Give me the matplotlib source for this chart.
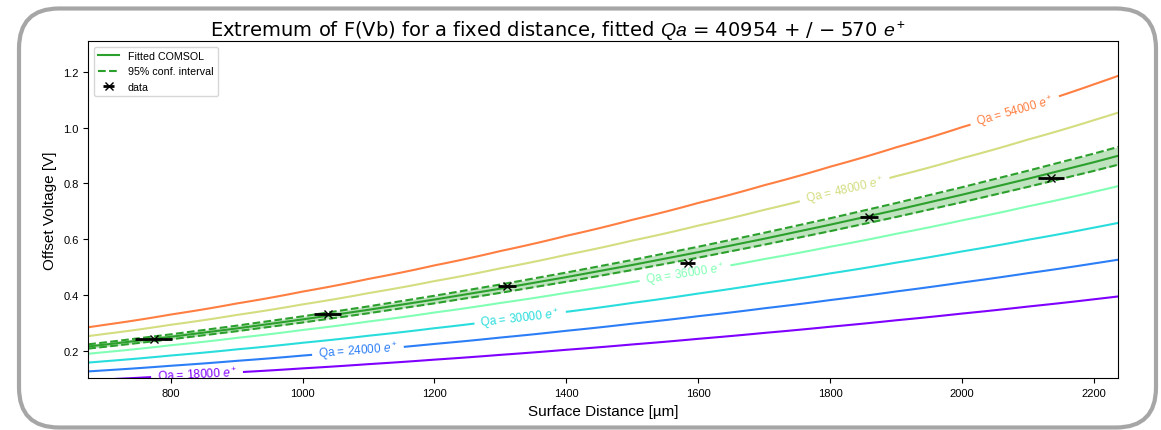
import matplotlib
matplotlib.use("Agg")
import matplotlib.pyplot as plt
import numpy as np
from matplotlib.patches import FancyBboxPatch

plt.rcParams['font.family'] = ['Liberation Sans', 'DejaVu Sans']
plt.rcParams['mathtext.fontset'] = 'custom'
plt.rcParams['mathtext.rm'] = 'Liberation Sans'
plt.rcParams['mathtext.it'] = 'Liberation Sans:italic'

# fitted charge and confidence bounds [e+]
QA_FIT = 40954
QA_ERR = 570
QA_LOW = 39500
QA_HIGH = 42400

# fitted offset voltage along the surface distance
distance = [675, 700, 800, 900, 1000, 1100, 1200, 1300, 1400, 1500,
            1600, 1700, 1800, 1900, 2000, 2100, 2200, 2237]
fit_v = [0.216, 0.2225, 0.2505, 0.2805, 0.3128, 0.3473, 0.3840, 0.4230, 0.4643,
         0.5078, 0.5536, 0.6017, 0.6520, 0.7046, 0.7594, 0.8165, 0.8758, 0.8990]

# simulated charge levels
qa_levels = [18000, 24000, 30000, 36000, 48000, 54000]
label_dist = [840, 1084, 1330, 1580, 1822, 2080]

# measured extrema
data_d = [774, 1038, 1310, 1584, 1859, 2135]
data_v = [0.243, 0.333, 0.434, 0.515, 0.679, 0.820]
data_derr = [28, 20, 14, 11, 14, 19]

d = np.array(distance, dtype=float)
per_charge = np.array(fit_v) / QA_FIT

fig = plt.figure(figsize=(11.61, 4.31), dpi=100)
ax = fig.add_axes([0.076, 0.12, 0.9632 - 0.076, 0.9019 - 0.12])

# charge map: which Qa gives voltage v at distance d
v_grid = np.linspace(0.03, 1.4, 400)
D, V = np.meshgrid(d, v_grid)
Q = V / np.interp(D, d, per_charge)

cmap = plt.get_cmap('rainbow')
colors = [cmap(i / 6) for i in range(len(qa_levels))]
cs = ax.contour(D, V, Q, levels=qa_levels, colors=colors, linewidths=1.5)
manual = [(x, q * np.interp(x, d, per_charge)) for x, q in zip(label_dist, qa_levels)]
ax.clabel(cs, inline=True, fontsize=8.5, fmt=lambda q: 'Qa = %d $e^+$' % q,
          manual=manual, inline_spacing=6)

ax.fill_between(d, QA_LOW * per_charge, QA_HIGH * per_charge,
                color='tab:green', alpha=0.3, lw=0)
ax.plot(d, QA_FIT * per_charge, color='tab:green', lw=1.5, label='Fitted COMSOL')
ax.plot(d, QA_LOW * per_charge, '--', color='tab:green', lw=1.5,
        label='95% conf. interval')
ax.plot(d, QA_HIGH * per_charge, '--', color='tab:green', lw=1.5)

ax.errorbar(data_d, data_v, xerr=data_derr, fmt='x', color='k', ecolor='k',
            elinewidth=2, markersize=6, mew=1, capsize=0, label='data', zorder=5)

ax.set_xlim(675, 2237)
ax.set_ylim(0.102, 1.309)
ax.tick_params(labelsize=8)
ax.set_xlabel('Surface Distance [µm]', fontsize=11)
ax.set_ylabel('Offset Voltage [V]', fontsize=11)
ax.set_title('Extremum of F(Vb) for a fixed distance, fitted $Qa$ = %d + / − %d $e^+$'
             % (QA_FIT, QA_ERR), fontsize=14, pad=4, x=0.456,
             family=['DejaVu Sans'])
ax.legend(loc='upper left', fontsize=7.7)

# rounded frame around the whole figure
frame = FancyBboxPatch((0.19, 0.025), 11.37, 4.19,
                       boxstyle='round,pad=0,rounding_size=0.4',
                       transform=fig.dpi_scale_trans, fill=False,
                       edgecolor='#a6a6a6', lw=3, clip_on=False)
fig.add_artist(frame)

fig.savefig('out.png', dpi=100)
